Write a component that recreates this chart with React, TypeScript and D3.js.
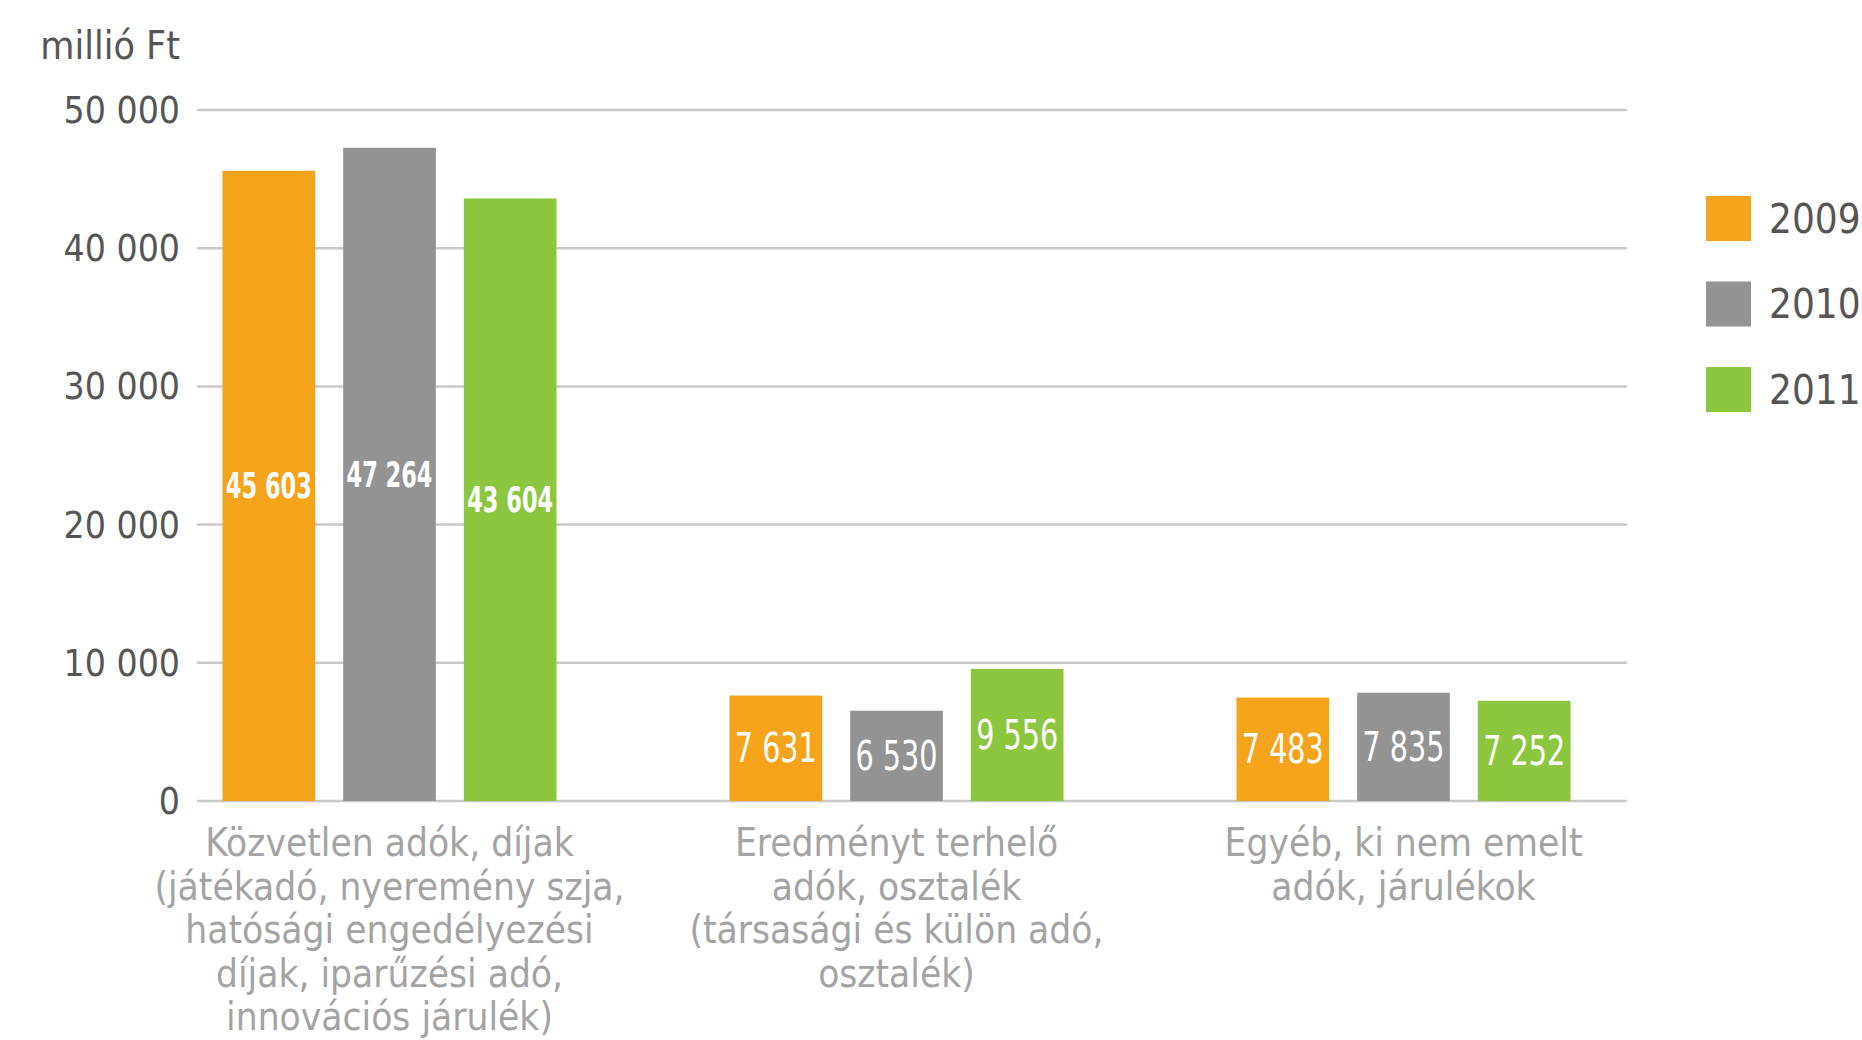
import React, { useEffect, useRef } from 'react';
import * as d3 from 'd3';

const categories = [
  ['Közvetlen adók, díjak', '(játékadó, nyeremény szja,', 'hatósági engedélyezési', 'díjak, iparűzési adó,', 'innovációs járulék)'],
  ['Eredményt terhelő', 'adók, osztalék', '(társasági és külön adó,', 'osztalék)'],
  ['Egyéb, ki nem emelt', 'adók, járulékok'],
];
const years = ['2009', '2010', '2011'];
const values2009 = [45603, 7631, 7483];
const values2010 = [47264, 6530, 7835];
const values2011 = [43604, 9556, 7252];
const yTicks = [0, 10000, 20000, 30000, 40000, 50000];
const colors = ['#f5a31b', '#939393', '#8cc63f'];

const FONT = "'DejaVu Sans Condensed', 'DejaVu Sans', sans-serif";

const App = () => {
  const svgRef = useRef<SVGSVGElement>(null);

  useEffect(() => {
    const svg = d3.select(svgRef.current);
    svg.selectAll('*').remove();

    const series = [values2009, values2010, values2011];
    const fmt = d3.formatLocale({ decimal: ',', thousands: ' ', grouping: [3], currency: ['', ''] }).format(',d');

    const left = 197, right = 1627;
    const y = d3.scaleLinear().domain([0, 50000]).range([801, 110]);

    const x0 = d3.scaleBand<number>().domain(d3.range(categories.length)).range([136, 1657]);
    const span = 334;
    const bw = x0.bandwidth();
    const x1 = d3.scaleBand<string>().domain(years).range([(bw - span) / 2, (bw + span) / 2]).paddingInner(0.232);

    // grid
    svg.append('g')
      .selectAll('line')
      .data(yTicks)
      .join('line')
        .attr('x1', left)
        .attr('x2', right)
        .attr('y1', d => y(d))
        .attr('y2', d => y(d))
        .attr('stroke', '#c8c8c8')
        .attr('stroke-width', 2.5);

    svg.append('g')
      .selectAll('text')
      .data(yTicks)
      .join('text')
        .attr('x', 180)
        .attr('y', d => y(d))
        .attr('dy', '0.35em')
        .attr('text-anchor', 'end')
        .attr('font-family', FONT)
        .attr('font-size', 37)
        .attr('fill', '#555555')
        .text(d => fmt(d));

    svg.append('text')
      .attr('x', 180)
      .attr('y', 59)
      .attr('text-anchor', 'end')
      .attr('font-family', FONT)
      .attr('font-size', 39)
      .attr('fill', '#555555')
      .text('millió Ft');

    // bars
    const groups = svg.append('g')
      .selectAll('g')
      .data(categories.map((c, i) => i))
      .join('g')
        .attr('transform', i => `translate(${x0(i)},0)`);

    const cells = groups.selectAll('g')
      .data(i => years.map((yr, k) => ({ yr, k, v: series[k][i], big: i === 0 })))
      .join('g');

    cells.append('rect')
      .attr('x', d => x1(d.yr)!)
      .attr('width', x1.bandwidth())
      .attr('y', d => y(d.v))
      .attr('height', d => y(0) - y(d.v))
      .attr('fill', d => colors[d.k]);

    // value labels, squeezed to look like the condensed face of the original
    cells.append('text')
      .attr('x', d => x1(d.yr)! + x1.bandwidth() / 2)
      .attr('y', d => (y(d.v) + y(0)) / 2)
      .attr('dy', '0.35em')
      .attr('text-anchor', 'middle')
      .attr('font-family', FONT)
      .attr('font-weight', d => d.big ? 'bold' : 'normal')
      .attr('font-size', d => d.big ? 36 : 40)
      .attr('textLength', d => d.big ? 86 : 82)
      .attr('lengthAdjust', 'spacingAndGlyphs')
      .attr('fill', '#ffffff')
      .text(d => fmt(d.v));

    // category labels
    groups.append('text')
      .attr('x', bw / 2)
      .attr('text-anchor', 'middle')
      .attr('font-family', FONT)
      .attr('font-size', 38.5)
      .attr('fill', '#a3a3a3')
      .selectAll('tspan')
      .data(i => categories[i])
      .join('tspan')
        .attr('x', bw / 2)
        .attr('y', (d, j) => 856 + j * 43.5)
        .text(d => d);

    // legend
    const legend = svg.append('g')
      .selectAll('g')
      .data(years)
      .join('g')
        .attr('transform', (d, i) => `translate(1706,${196 + i * 85.5})`);

    legend.append('rect')
      .attr('width', 45)
      .attr('height', 45)
      .attr('fill', (d, i) => colors[i]);

    legend.append('text')
      .attr('x', 63)
      .attr('y', 22.5)
      .attr('dy', '0.35em')
      .attr('font-family', FONT)
      .attr('font-size', 40)
      .attr('fill', '#555555')
      .text(d => d);
  }, []);

  return <svg ref={svgRef} width={1862} height={1040} style={{ position: 'absolute', left: 0, top: 0, background: '#fff' }}></svg>;
};

export default App;
